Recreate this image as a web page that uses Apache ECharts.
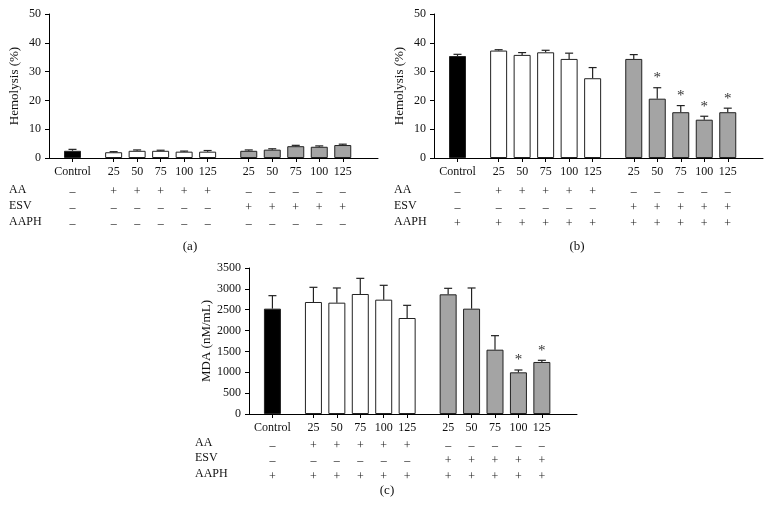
<!DOCTYPE html>
<html>
<head>
<meta charset="utf-8">
<script src="https://cdn.jsdelivr.net/npm/echarts@6/dist/echarts.min.js"></script>
<style>
  html, body { margin: 0; padding: 0; background: #fff; }
  #main { width: 772px; height: 527px; }
</style>
</head>
<body>
<div id="main"></div>
<script>
// categories and bar positions (gap between control, AA group and ESV group)
var groups = ['Control', '25', '50', '75', '100', '125', '25', '50', '75', '100', '125'];
var slots = [0, 1.75, 2.75, 3.75, 4.75, 5.75, 7.5, 8.5, 9.5, 10.5, 11.5];
var kinds = ['control', 'aa', 'aa', 'aa', 'aa', 'aa', 'esv', 'esv', 'esv', 'esv', 'esv'];

// treatment table rows
var rowAA = ['–', '+', '+', '+', '+', '+', '–', '–', '–', '–', '–'];
var rowESV = ['–', '–', '–', '–', '–', '–', '+', '+', '+', '+', '+'];
var rowAAPHa = ['–', '–', '–', '–', '–', '–', '–', '–', '–', '–', '–'];
var rowAAPHbc = ['+', '+', '+', '+', '+', '+', '+', '+', '+', '+', '+'];

// (a) hemolysis without AAPH
var hemoA = [2.5, 2.0, 2.5, 2.5, 2.2, 2.2, 2.5, 2.9, 4.1, 3.9, 4.5];
var errA = [0.5, 0.2, 0.3, 0.2, 0.2, 0.4, 0.3, 0.3, 0.3, 0.3, 0.3];
var sigA = [0, 0, 0, 0, 0, 0, 0, 0, 0, 0, 0];
// (b) hemolysis with AAPH
var hemoB = [35.4, 37.3, 35.8, 36.7, 34.4, 27.7, 34.4, 20.6, 15.9, 13.3, 15.9];
var errB = [0.6, 0.3, 0.8, 0.7, 2.0, 3.7, 1.5, 3.8, 2.3, 1.2, 1.4];
var sigB = [0, 0, 0, 0, 0, 0, 0, 1, 1, 1, 1];
// (c) MDA
var mdaC = [2525, 2685, 2669, 2877, 2741, 2301, 2869, 2525, 1542, 999, 1247];
var errC = [312, 352, 352, 375, 344, 304, 144, 496, 336, 56, 40];
var sigC = [0, 0, 0, 0, 0, 0, 0, 0, 0, 1, 1];

var FONT = '"Liberation Serif", "DejaVu Serif", serif';
var fills = { control: '#000000', aa: '#ffffff', esv: '#a4a4a4' };

var chart = echarts.init(document.getElementById('main'));

var panels = [
  { grid: { left: 49, top: 14, width: 329, height: 144 }, y: { max: 50, interval: 10 }, name: 'Hemolysis (%)',
    vals: hemoA, err: errA, sig: sigA, aaph: rowAAPHa, offs: [24, 40, 56] },
  { grid: { left: 434, top: 14, width: 329, height: 144 }, y: { max: 50, interval: 10 }, name: 'Hemolysis (%)',
    vals: hemoB, err: errB, sig: sigB, aaph: rowAAPHbc, offs: [24, 40, 56] },
  { grid: { left: 249, top: 268, width: 328, height: 146 }, y: { max: 3500, interval: 500 }, name: 'MDA (nM/mL)',
    vals: mdaC, err: errC, sig: sigC, aaph: rowAAPHbc, offs: [22, 37, 53] }
];

function rowAxis(gi, labels, offset, showLine) {
  return {
    type: 'value', gridIndex: gi, min: -1, max: 13, position: 'bottom', offset: offset,
    axisLine: { show: showLine, onZero: false, lineStyle: { color: '#000', width: 1 } },
    axisTick: { show: showLine, customValues: slots, length: 4, inside: false, lineStyle: { color: '#000' } },
    splitLine: { show: false },
    axisLabel: {
      customValues: slots, margin: showLine ? 8 : 4, fontFamily: FONT, fontSize: 12,
      color: showLine ? '#111' : '#222',
      formatter: function (v) { var i = slots.indexOf(v); return i >= 0 ? labels[i] : ''; }
    }
  };
}

var grids = [], xAxes = [], yAxes = [], series = [];
panels.forEach(function (p, gi) {
  grids.push(p.grid);
  xAxes.push(rowAxis(gi, groups, 0, true));
  xAxes.push(rowAxis(gi, rowAA, p.offs[0], false));
  xAxes.push(rowAxis(gi, rowESV, p.offs[1], false));
  xAxes.push(rowAxis(gi, p.aaph, p.offs[2], false));
  yAxes.push({
    type: 'value', gridIndex: gi, min: 0, max: p.y.max, interval: p.y.interval,
    name: p.name, nameLocation: 'middle', nameGap: 28,
    nameTextStyle: { fontFamily: FONT, fontSize: 13, color: '#111' },
    axisLine: { show: true, onZero: false, lineStyle: { color: '#000', width: 1 } },
    axisTick: { show: true, length: 4, lineStyle: { color: '#000' } },
    splitLine: { show: false },
    axisLabel: { fontFamily: FONT, fontSize: 12, color: '#111', margin: 8,
      formatter: function (v) { return String(v); } }
  });
  var barData = p.vals.map(function (v, i) {
    return { value: [slots[i], v], itemStyle: { color: fills[kinds[i]] } };
  });
  series.push({
    type: 'bar', xAxisIndex: gi * 4, yAxisIndex: gi, barWidth: 17,
    itemStyle: { borderColor: '#222', borderWidth: 1 },
    data: barData, silent: true, z: 2
  });
  series.push({
    type: 'custom', xAxisIndex: gi * 4, yAxisIndex: gi, z: 3, silent: true,
    data: p.vals.map(function (v, i) { return [slots[i], v, v + p.err[i], p.sig[i]]; }),
    renderItem: function (params, api) {
      var base = api.coord([api.value(0), api.value(1)]);
      var top = api.coord([api.value(0), api.value(2)]);
      var kids = [
        { type: 'line', shape: { x1: top[0], y1: base[1], x2: top[0], y2: top[1] }, style: { stroke: '#222', lineWidth: 1.2 } },
        { type: 'line', shape: { x1: top[0] - 4, y1: top[1], x2: top[0] + 4, y2: top[1] }, style: { stroke: '#222', lineWidth: 1.2 } }
      ];
      if (api.value(3)) {
        kids.push({ type: 'text', x: top[0], y: top[1] - 2,
          style: { text: '*', fontFamily: FONT, fontSize: 15, fill: '#333', align: 'center', verticalAlign: 'bottom' } });
      }
      return { type: 'group', children: kids };
    }
  });
});

function rowLabels(x, ys) {
  return ['AA', 'ESV', 'AAPH'].map(function (t, i) {
    return { type: 'text', left: x, top: ys[i] - 7, style: { text: t, fontFamily: FONT, fontSize: 12, fill: '#111' } };
  });
}
function caption(t, x, y) {
  return { type: 'text', x: x, y: y, style: { text: t, fontFamily: FONT, fontSize: 13, fill: '#111', align: 'center', verticalAlign: 'middle' } };
}

var graphics = []
  .concat(rowLabels(9, [191, 207, 223]))
  .concat(rowLabels(394, [191, 207, 223]))
  .concat(rowLabels(195, [444, 459, 475]))
  .concat([caption('(a)', 190, 247), caption('(b)', 577, 247), caption('(c)', 387, 491)]);

chart.setOption({
  animation: false,
  grid: grids,
  xAxis: xAxes,
  yAxis: yAxes,
  graphic: graphics,
  series: series
});
</script>
</body>
</html>
